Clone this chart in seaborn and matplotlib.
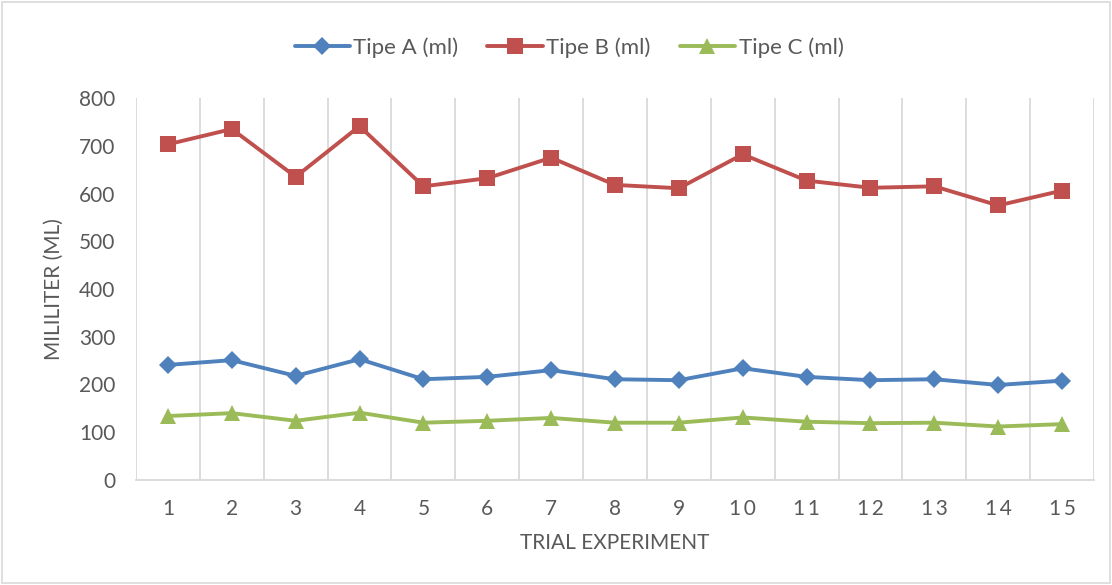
import matplotlib
matplotlib.use("Agg")
import matplotlib.pyplot as plt
import seaborn as sns
import pandas as pd
from matplotlib.patches import Rectangle

trials = list(range(1, 16))
tipe_a = [241, 251, 218, 253, 211, 216, 230, 211, 209, 234, 216, 209, 211, 199, 208]
tipe_b = [703, 735, 635, 741, 615, 632, 675, 618, 611, 682, 627, 612, 615, 575, 606]
tipe_c = [134, 140, 124, 141, 120, 124, 130, 120, 120, 131, 122, 119, 120, 112, 117]
series_names = ["Tipe A (ml)", "Tipe B (ml)", "Tipe C (ml)"]
y_ticks = [0, 100, 200, 300, 400, 500, 600, 700, 800]

df = pd.concat([
    pd.DataFrame({"trial": trials, "value": vals, "series": name})
    for name, vals in zip(series_names, [tipe_a, tipe_b, tipe_c])
])

sns.set_theme(style="white")
plt.rcParams["font.family"] = ["Lato", "DejaVu Sans"]
text_color = "#595959"

fig = plt.figure(figsize=(11.12, 5.85), dpi=100)
ax = fig.add_axes([136/1112, 1-480/585, (1094-136)/1112, (480-98)/585])

palette = {"Tipe A (ml)": "#4F81BD", "Tipe B (ml)": "#C0504D", "Tipe C (ml)": "#9BBB59"}
markers = {"Tipe A (ml)": "D", "Tipe B (ml)": "s", "Tipe C (ml)": "^"}
sizes_m = {"Tipe A (ml)": 9, "Tipe B (ml)": 11, "Tipe C (ml)": 11}

for name in series_names:
    sub = df[df["series"] == name]
    sns.lineplot(data=sub, x="trial", y="value", ax=ax, color=palette[name],
                 marker=markers[name], markersize=sizes_m[name], markeredgewidth=0,
                 linewidth=2.8, label=name, zorder=3)

ax.set_xlim(0.5, 15.5)
ax.set_ylim(0, 800)
ax.set_yticks(y_ticks)
ax.set_xticks(trials)
ax.set_xticklabels(["\u2009".join(str(t)) for t in trials])

# vertical gridlines at category boundaries
for b in [i + 0.5 for i in range(0, 16)]:
    ax.axvline(b, color="#D9D9D9", linewidth=1.3, zorder=1)

for s in ["top", "right", "left"]:
    ax.spines[s].set_visible(False)
ax.spines["bottom"].set_color("#D9D9D9")
ax.spines["bottom"].set_linewidth(1.3)

ax.tick_params(axis="both", length=0, labelsize=15, colors=text_color)
ax.tick_params(axis="y", pad=15)
ax.tick_params(axis="x", pad=14)
ax.set_xlabel("TRIAL EXPERIMENT", fontsize=15, color=text_color, labelpad=10)
ax.set_ylabel("MILILITER (ML)", fontsize=15, color=text_color, labelpad=11)

leg = ax.legend(loc="upper center", bbox_to_anchor=(569/1112, (585-17)/585), bbox_transform=fig.transFigure,
                ncol=3, frameon=False, fontsize=16, handlelength=2.5, columnspacing=1.3,
                handletextpad=0.15)
for t in leg.get_texts():
    t.set_color(text_color)

fig.patches.append(Rectangle((0.002, 0.003), 0.996, 0.994, transform=fig.transFigure,
                             fill=False, edgecolor="#D9D9D9", linewidth=1.2))

fig.savefig("out.png", dpi=100)
